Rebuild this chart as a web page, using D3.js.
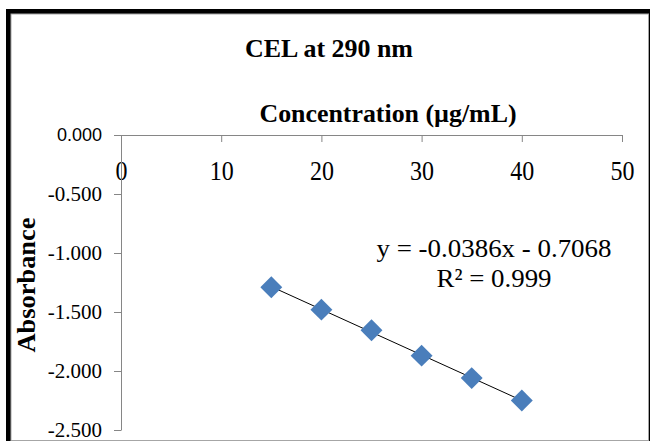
<!DOCTYPE html>
<html>
<head>
<meta charset="utf-8">
<script src="https://cdn.jsdelivr.net/npm/d3@7"></script>
<style>
  body { margin: 0; background: #fff; }
  svg { display: block; }
  text { font-family: "Liberation Serif", "Times New Roman", serif; fill: #000; }
</style>
</head>
<body>
<script>
// chart data
var concentration = [15, 20, 25, 30, 35, 40];
var absorbance = [-1.290, -1.480, -1.655, -1.870, -2.060, -2.250];
var xTicks = [0, 10, 20, 30, 40, 50];
var yTicks = [0, -0.5, -1.0, -1.5, -2.0, -2.5];
var chartTitle = "CEL at 290 nm";
var xTitle = "Concentration (µg/mL)";
var yTitle = "Absorbance";
var eqLines = ["y = -0.0386x - 0.7068", "R² = 0.999"];

var W = 650, H = 441;
var axisColor = "#868686";
var markerColor = "#4A7EBB";

var svg = d3.select("body").append("svg")
            .attr("width", W)
            .attr("height", H);

// frame: heavy black edge top/left, thin grey edge right/bottom
svg.append("rect").attr("x", 6).attr("y", 9).attr("width", 644).attr("height", 432).attr("fill", "#000");
svg.append("rect").attr("x", 11).attr("y", 14).attr("width", 637.5).attr("height", 426.5)
   .attr("fill", "#fff").attr("stroke", "#a6a6a6").attr("stroke-width", 1);

var x = d3.scaleLinear().domain([0, 50]).range([121, 622]);
var y = d3.scaleLinear().domain([0, -2.5]).range([135, 430]);

// x axis sits along the zero line at top
var xAxis = svg.append("g")
               .attr("transform", "translate(0," + y(0) + ")")
               .call(d3.axisBottom(x).tickValues(xTicks).tickSize(7).tickPadding(19).tickSizeOuter(0)
                       .tickFormat(function(d) { return d; }));
xAxis.selectAll("text")
     .style("font-size", "27px")
     .attr("textLength", function(d) { return String(d).length * 12; })
     .attr("lengthAdjust", "spacingAndGlyphs");

var yAxis = svg.append("g")
               .attr("transform", "translate(" + x(0) + ",0)")
               .call(d3.axisLeft(y).tickValues(yTicks).tickSize(7).tickPadding(12).tickSizeOuter(0)
                       .tickFormat(function(d) { return d.toFixed(3); }));
yAxis.selectAll("text").style("font-size", "21px");
// the top label is drawn in a sans face in the original
yAxis.selectAll("text").filter(function(d) { return d === 0; })
     .style("font-family", "'Liberation Sans', Arial, sans-serif")
     .style("font-size", "18px");

svg.selectAll(".domain, .tick line").attr("stroke", axisColor);

// titles
svg.append("text").attr("x", 329).attr("y", 57).attr("text-anchor", "middle")
   .style("font-size", "26px").style("font-weight", "bold")
   .attr("textLength", 168).attr("lengthAdjust", "spacingAndGlyphs")
   .text(chartTitle);
svg.append("text").attr("x", 388).attr("y", 122).attr("text-anchor", "middle")
   .style("font-size", "26px").style("font-weight", "bold")
   .attr("textLength", 257).attr("lengthAdjust", "spacingAndGlyphs")
   .text(xTitle);
svg.append("text").attr("transform", "translate(35,285) rotate(-90)").attr("text-anchor", "middle")
   .style("font-size", "26px").style("font-weight", "bold")
   .attr("textLength", 135).attr("lengthAdjust", "spacingAndGlyphs")
   .text(yTitle);

// linear trendline from least squares on the points
var mx = d3.mean(concentration), my = d3.mean(absorbance);
var sxy = d3.sum(concentration, function(c, i) { return (c - mx) * (absorbance[i] - my); });
var sxx = d3.sum(concentration, function(c) { return (c - mx) * (c - mx); });
var slope = sxy / sxx, icept = my - slope * mx;
var xExt = d3.extent(concentration);

svg.append("line")
   .attr("x1", x(xExt[0])).attr("y1", y(icept + slope * xExt[0]))
   .attr("x2", x(xExt[1])).attr("y2", y(icept + slope * xExt[1]))
   .attr("stroke", "#000").attr("stroke-width", 1);

// diamond markers
var diamond = d3.symbol().type(d3.symbolSquare).size(240);
svg.selectAll("path.pt")
   .data(concentration)
   .enter()
   .append("path")
   .attr("class", "pt")
   .attr("d", diamond)
   .attr("transform", function(d, i) { return "translate(" + x(d) + "," + y(absorbance[i]) + ") rotate(45)"; })
   .attr("fill", markerColor);

// equation label
var eqWidths = [235, 115];
svg.selectAll("text.eq")
   .data(eqLines)
   .enter()
   .append("text")
   .attr("class", "eq")
   .attr("x", 494)
   .attr("y", function(d, i) { return 257 + i * 30; })
   .attr("text-anchor", "middle")
   .style("font-size", "26px")
   .attr("textLength", function(d, i) { return eqWidths[i]; })
   .attr("lengthAdjust", "spacingAndGlyphs")
   .text(function(d) { return d; });
</script>
</body>
</html>
